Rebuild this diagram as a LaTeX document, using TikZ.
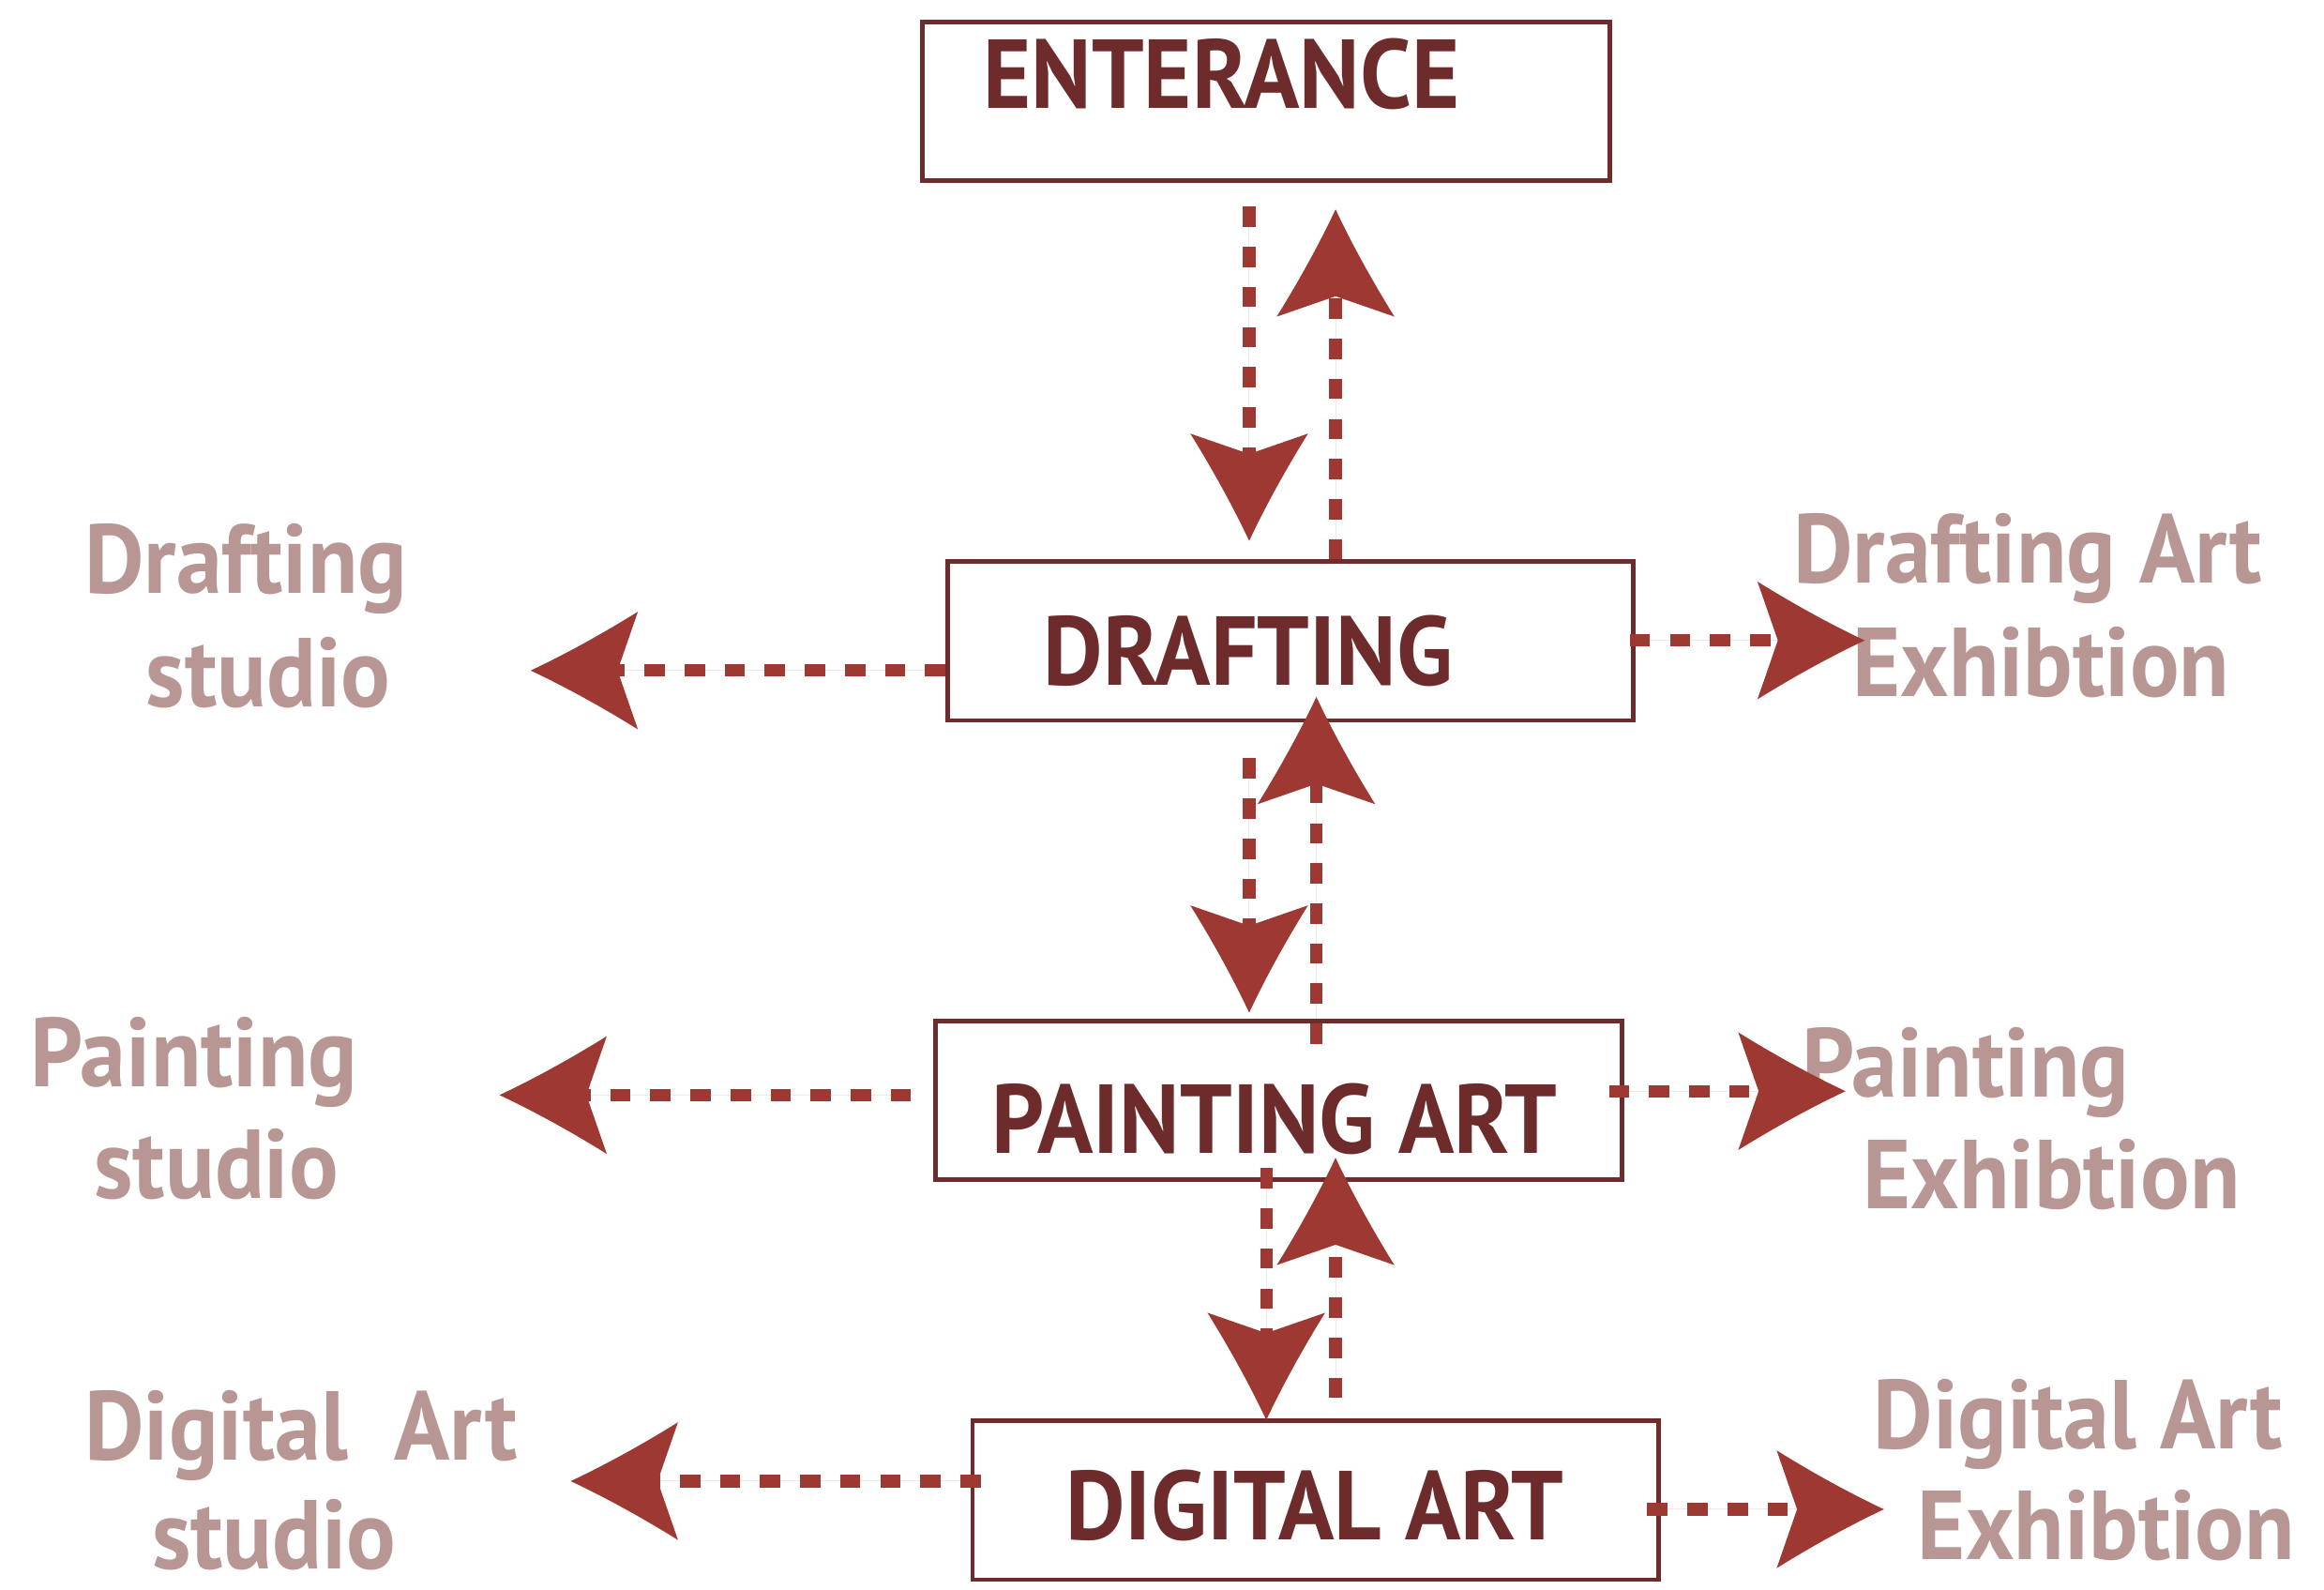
\documentclass[tikz,border=0pt]{standalone}
\usepackage{fontspec}
\newfontfamily\labfont[FakeStretch=0.94]{PT Sans}
\usetikzlibrary{arrows.meta,calc}
\definecolor{boxc}{RGB}{110,43,43}
\definecolor{arrc}{RGB}{158,56,50}
\definecolor{lightc}{RGB}{184,150,148}
\pgfdeclarearrow{
  name = Swoop,
  defaults = {length = 7.2mm, width = 7.9mm},
  parameters = {\the\pgfarrowlength,\the\pgfarrowwidth},
  setup code = {
    \pgfarrowssettipend{0pt}
    \pgfarrowssetlineend{-.7\pgfarrowlength}
    \pgfarrowssetbackend{-\pgfarrowlength}
    \pgfarrowssetvisualbackend{-.81\pgfarrowlength}
    \pgfarrowshullpoint{0pt}{0pt}
    \pgfarrowsupperhullpoint{-\pgfarrowlength}{.5\pgfarrowwidth}
    \pgfarrowssavethe\pgfarrowlength
    \pgfarrowssavethe\pgfarrowwidth
  },
  drawing code = {
    \pgfpathmoveto{\pgfqpoint{0pt}{0pt}}
    \pgfpathcurveto{\pgfpoint{-.35\pgfarrowlength}{.15\pgfarrowwidth}}{\pgfpoint{-.7\pgfarrowlength}{.33\pgfarrowwidth}}{\pgfpoint{-\pgfarrowlength}{.5\pgfarrowwidth}}
    \pgfpathlineto{\pgfpoint{-.81\pgfarrowlength}{0pt}}
    \pgfpathlineto{\pgfpoint{-\pgfarrowlength}{-.5\pgfarrowwidth}}
    \pgfpathcurveto{\pgfpoint{-.7\pgfarrowlength}{-.33\pgfarrowwidth}}{\pgfpoint{-.35\pgfarrowlength}{-.15\pgfarrowwidth}}{\pgfpoint{0pt}{0pt}}
    \pgfpathclose
    \pgfusepathqfill
  }
}
\tikzset{
  box/.style={draw=boxc, line width=0.85pt, rectangle, minimum width=46.05mm, minimum height=10.65mm, inner sep=0pt},
  boxtxt/.style={font=\labfont\bfseries\fontsize{18.7}{22}\selectfont, text=boxc, anchor=base, inner sep=0pt},
  side/.style={font=\labfont\bfseries\fontsize{18.7}{22}\selectfont, text=lightc, anchor=base, inner sep=0pt},
  conn/.style={draw=arrc, fill=arrc, line width=0.84mm, dash pattern=on 1.36mm off 1.33mm, -{Swoop[length=7.2mm,width=7.9mm]}}
}
\begin{document}
\begin{tikzpicture}[x=0.1mm,y=-0.1mm]
\useasboundingbox (0,0) rectangle (1560,1067);
% boxes
\node[box, minimum width=46.15mm] (E) at (849.8,68) {};
\node[box] (D) at (866.3,430.2) {};
\node[box] (P) at (858.3,738.3) {};
\node[box] (G) at (883,1006.9) {};
% box texts
\node[boxtxt] (Et) at (819.9,73) {ENTERANCE};
\node[boxtxt] (Dt) at (837.8,460) {DRAFTING};
\node[boxtxt] (Pt) at (855.7,774.3) {PAINTING ART};
\node[boxtxt] (Gt) at (882.6,1033.5) {DIGITAL ART};
% side labels
\node[side] (ds1) at (165.2,398) {Drafting};
\node[side] (ds2) at (180.1,474.6) {studio};
\node[side] (de1) at (1361.2,391) {Drafting Art};
\node[side] (de2) at (1370.1,467.7) {Exhibtion};
\node[side] (ps1) at (130.3,729.3) {Painting};
\node[side] (ps2) at (145.3,804) {studio};
\node[side] (pe1) at (1319.4,736.3) {Painting};
\node[side] (pe2) at (1377.1,811) {Exhibtion};
\node[side] (gs1) at (202,980) {Digital\ \ Art};
\node[side] (gs2) at (184.1,1052.7) {studio};
\node[side] (ge1) at (1395,972.1) {Digital Art};
\node[side] (ge2) at (1413.9,1046.7) {Exhibtion};
% arrow tips
\coordinate (a1) at (838.5,363);
\coordinate (a2) at (896.5,140.5);
\coordinate (a3) at (838.5,679.6);
\coordinate (a4) at (883.6,467.7);
\coordinate (a5) at (850,953);
\coordinate (a6) at (896.5,777);
\coordinate (h1) at (356.2,450);
\coordinate (h2) at (1251.7,429.8);
\coordinate (h3) at (335.3,734.9);
\coordinate (h4) at (1238.8,732.3);
\coordinate (h5) at (383.1,994);
\coordinate (h6) at (1264.6,1012.9);
% vertical connectors
\draw[conn] ($(E.south -| a1)+(0,16)$) -- (a1);
\draw[conn] (D.north -| a2) -- (a2);
\draw[conn] ($(D.south -| a3)+(0,24)$) -- (a3);
\draw[conn] ($(P.north -| a4)+(0,17)$) -- (a4);
\draw[conn] ($(P.south -| a5)+(0,-9)$) -- (a5);
\draw[conn] ($(G.north -| a6)+(0,-14)$) -- (a6);
% horizontal connectors
\draw[conn] (D.west |- h1) -- (h1);
\draw[conn] ($(D.east |- h2)+(-4,0)$) -- (h2);
\draw[conn] ($(P.west |- h3)+(-15,0)$) -- (h3);
\draw[conn] ($(P.east |- h4)+(-10,0)$) -- (h4);
\draw[conn] ($(G.west |- h5)+(7,0)$) -- (h5);
\draw[conn] ($(G.east |- h6)+(-9,0)$) -- (h6);
\end{tikzpicture}
\end{document}
